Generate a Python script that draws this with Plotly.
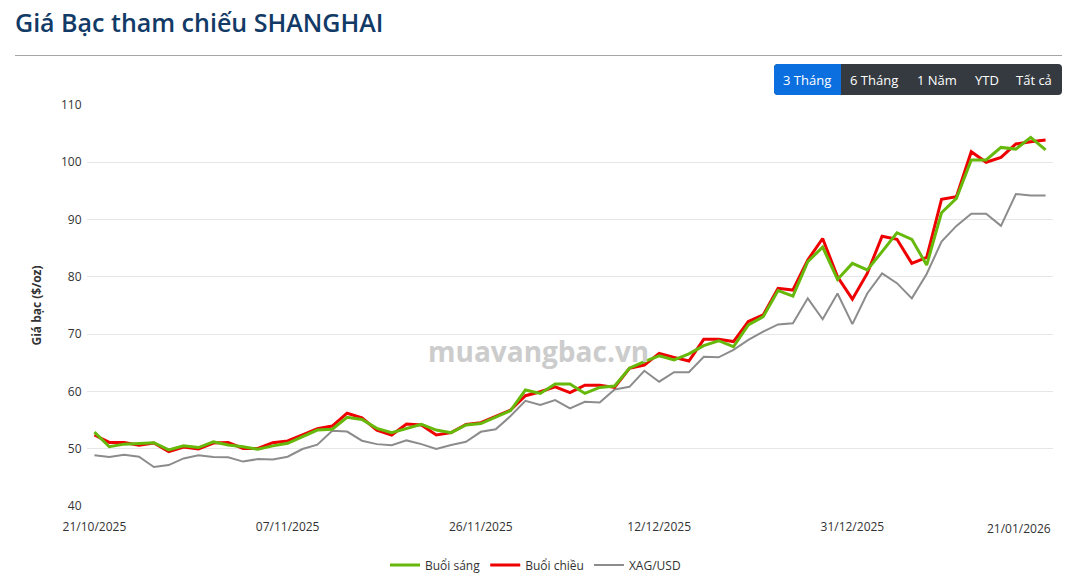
import plotly.graph_objects as go

# ---------------- data ----------------
dates = [
    "21/10/2025", "22/10/2025", "23/10/2025", "24/10/2025", "27/10/2025", "28/10/2025", "29/10/2025",
    "30/10/2025", "31/10/2025",
    "03/11/2025", "04/11/2025", "05/11/2025", "06/11/2025", "07/11/2025", "10/11/2025", "11/11/2025",
    "12/11/2025", "13/11/2025", "14/11/2025", "17/11/2025", "18/11/2025", "19/11/2025", "20/11/2025",
    "21/11/2025", "24/11/2025", "25/11/2025", "26/11/2025", "27/11/2025", "28/11/2025",
    "01/12/2025", "02/12/2025", "03/12/2025", "04/12/2025", "05/12/2025", "08/12/2025", "09/12/2025",
    "10/12/2025", "11/12/2025", "12/12/2025", "15/12/2025", "16/12/2025", "17/12/2025", "18/12/2025",
    "19/12/2025", "22/12/2025", "23/12/2025", "24/12/2025", "25/12/2025", "26/12/2025", "29/12/2025",
    "30/12/2025", "31/12/2025",
    "05/01/2026", "06/01/2026", "07/01/2026", "08/01/2026", "09/01/2026", "12/01/2026", "13/01/2026",
    "14/01/2026", "15/01/2026", "16/01/2026", "19/01/2026", "20/01/2026", "21/01/2026",
]

buoi_sang = [
    52.9, 50.35, 50.8, 50.9, 51.05, 49.8, 50.5, 50.2, 51.2, 50.65,
    50.35, 49.9, 50.5, 50.95, 52.1, 53.25, 53.4, 55.5, 55.1, 53.55,
    52.8, 53.55, 54.25, 53.25, 52.8, 54.15, 54.4, 55.5, 56.65, 60.25,
    59.65, 61.3, 61.3, 59.65, 60.7, 60.95, 64.05, 65.2, 66.2, 65.5,
    66.55, 68.0, 68.85, 67.8, 71.6, 73.05, 77.6, 76.65, 82.65, 85.2,
    79.55, 82.35, 81.2, 84.4, 87.7, 86.55, 82.05, 91.2, 93.7, 100.4,
    100.4, 102.6, 102.3, 104.35, 102.15,
]

buoi_chieu = [
    52.4, 51.1, 51.1, 50.6, 51.0, 49.5, 50.3, 49.95, 51.0, 51.1,
    50.05, 50.05, 51.05, 51.35, 52.4, 53.5, 53.95, 56.2, 55.4, 53.25,
    52.4, 54.3, 54.15, 52.4, 52.8, 54.25, 54.55, 55.7, 56.75, 59.25,
    59.95, 60.8, 59.8, 61.1, 61.1, 60.7, 64.05, 64.6, 66.65, 65.95,
    65.3, 69.1, 69.1, 68.7, 72.2, 73.35, 78.0, 77.7, 82.95, 86.7,
    80.0, 76.1, 80.6, 87.1, 86.55, 82.35, 83.4, 93.55, 94.0, 101.85,
    100.0, 100.85, 103.2, 103.6, 103.9,
]

xag_usd = [
    48.85, 48.55, 48.95, 48.6, 46.8, 47.15, 48.3, 48.85, 48.55, 48.5,
    47.75, 48.2, 48.1, 48.6, 49.95, 50.7, 53.15, 53.0, 51.4, 50.8,
    50.6, 51.45, 50.8, 49.95, 50.65, 51.2, 52.95, 53.4, 55.7, 58.35,
    57.65, 58.5, 57.05, 58.2, 58.05, 60.35, 60.8, 63.6, 61.7, 63.35,
    63.35, 66.05, 65.95, 67.25, 69.0, 70.45, 71.7, 71.9, 76.25, 72.6,
    77.1, 71.75, 77.1, 80.6, 78.9, 76.25, 80.5, 86.15, 88.9, 91.0,
    91.0, 88.9, 94.45, 94.2, 94.2,
]

x_tick_labels = ["21/10/2025", "07/11/2025", "26/11/2025", "12/12/2025", "31/12/2025"]
last_tick_label = "21/01/2026"
y_ticks = [40, 50, 60, 70, 80, 90, 100, 110]
range_buttons = ["3 Tháng", "6 Tháng", "1 Năm", "YTD", "Tất cả"]

# ---------------- layout geometry (pixels) ----------------
WIDTH, HEIGHT = 1071, 575
ML, MR, MT, MB = 87, 18, 105, 69
PW = WIDTH - ML - MR
PH = HEIGHT - MT - MB


def px(xp):
    return (xp - ML) / PW


def py(yp):
    return (HEIGHT - MB - yp) / PH


def rrect(x0, y0, x1, y1, r, left=True, right=True):
    rl = r if left else 0
    rr = r if right else 0
    pts = []
    pts.append(f"M{px(x0 + rl)},{py(y0)}")
    pts.append(f"L{px(x1 - rr)},{py(y0)}")
    pts.append(f"Q{px(x1)},{py(y0)} {px(x1)},{py(y0 + rr)}")
    pts.append(f"L{px(x1)},{py(y1 - rr)}")
    pts.append(f"Q{px(x1)},{py(y1)} {px(x1 - rr)},{py(y1)}")
    pts.append(f"L{px(x0 + rl)},{py(y1)}")
    pts.append(f"Q{px(x0)},{py(y1)} {px(x0)},{py(y1 - rl)}")
    pts.append(f"L{px(x0)},{py(y0 + rl)}")
    pts.append(f"Q{px(x0)},{py(y0)} {px(x0 + rl)},{py(y0)}")
    return " ".join(pts) + " Z"


FONT = "Open Sans, Segoe UI, sans-serif"

fig = go.Figure()
fig.add_trace(go.Scatter(x=dates, y=xag_usd, name="XAG/USD", mode="lines",
                         line=dict(color="#8c8c8c", width=2)))
fig.add_trace(go.Scatter(x=dates, y=buoi_chieu, name="Buổi chiều", mode="lines",
                         line=dict(color="#ee0000", width=3)))
fig.add_trace(go.Scatter(x=dates, y=buoi_sang, name="Buổi sáng", mode="lines",
                         line=dict(color="#66b80a", width=3)))

shapes = [
    dict(type="line", xref="paper", yref="paper", x0=px(15), x1=px(1062), y0=py(55.5), y1=py(55.5),
         line=dict(color="#a6a6a6", width=1)),
    dict(type="path", xref="paper", yref="paper", path=rrect(774, 64, 1062, 95, 4),
         fillcolor="#343a40", line=dict(width=0)),
    dict(type="path", xref="paper", yref="paper", path=rrect(774, 64, 841, 95, 4, right=False),
         fillcolor="#0b6fdf", line=dict(width=0)),
]

btn_centers = [807, 874, 937, 987, 1034]
annotations = []
for label, cx in zip(range_buttons, btn_centers):
    annotations.append(dict(text=label, x=px(cx), y=py(80), xref="paper", yref="paper",
                            showarrow=False, xanchor="center", yanchor="middle",
                            font=dict(family=FONT, size=13, color="#ffffff")))

annotations.append(dict(text="muavangbac.vn", x=px(538), y=py(351), xref="paper", yref="paper",
                        showarrow=False, xanchor="center", yanchor="middle",
                        font=dict(family=FONT, size=28, color="#cccccc", weight=700)))

annotations.append(dict(text=last_tick_label, x=px(1053), y=py(528), xref="paper", yref="paper",
                        showarrow=False, xanchor="right", yanchor="middle",
                        font=dict(family=FONT, size=12, color="#333333")))

fig.update_layout(
    width=WIDTH, height=HEIGHT,
    margin=dict(l=ML, r=MR, t=MT, b=MB, autoexpand=False),
    paper_bgcolor="#ffffff", plot_bgcolor="#ffffff",
    font=dict(family=FONT, size=12, color="#333333"),
    title=dict(text="Giá Bạc tham chiếu SHANGHAI", x=15 / WIDTH, xanchor="left", xref="container",
               y=1 - 23 / HEIGHT, yanchor="middle", yref="container",
               font=dict(family=FONT, size=25, color="#123a66", weight=600)),
    xaxis=dict(type="category", range=[-0.5, len(dates) - 0.5], showgrid=False, zeroline=False,
               tickmode="array", tickvals=x_tick_labels, ticktext=x_tick_labels,
               ticks="outside", ticklen=10, tickcolor="rgba(0,0,0,0)",
               tickfont=dict(family=FONT, size=12, color="#333333"),
               showline=False, fixedrange=True),
    yaxis=dict(range=[40, 110], tickvals=y_ticks, showgrid=True, gridcolor="#e6e6e6", gridwidth=1,
               zeroline=False, ticks="outside", ticklen=2, tickcolor="rgba(0,0,0,0)",
               tickfont=dict(family=FONT, size=12, color="#333333"),
               title=dict(text="Giá bạc ($/oz)", standoff=16,
                          font=dict(family=FONT, size=12, color="#333333", weight=700)),
               fixedrange=True),
    legend=dict(orientation="h", x=0.5, xanchor="center", xref="container",
                y=1 - 565 / HEIGHT, yanchor="middle", yref="container",
                traceorder="reversed", font=dict(family=FONT, size=12, color="#333333"),
                itemwidth=30),
    shapes=shapes,
    annotations=annotations,
    hovermode="x unified",
)

fig.write_html("out.html", config={"displayModeBar": False},
               post_script="document.body.style.margin='0';document.body.style.overflow='hidden';")
